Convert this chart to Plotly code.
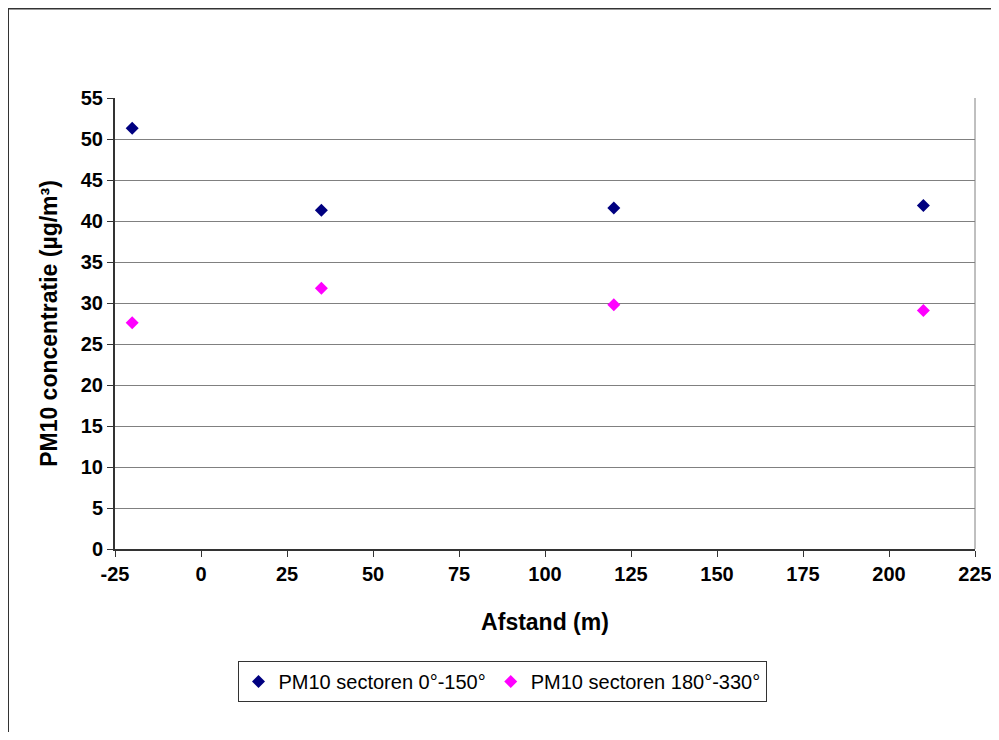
import plotly.graph_objects as go

afstand = [-20, 35, 120, 210]
pm10_sector_a = [51.3, 41.3, 41.6, 41.9]
pm10_sector_b = [27.6, 31.8, 29.8, 29.1]
name_a = "PM10 sectoren 0°-150°"
name_b = "PM10 sectoren 180°-330°"
x_ticks = [-25, 0, 25, 50, 75, 100, 125, 150, 175, 200, 225]
x_ticktext = ["-25", "0", "25", "50", "75", "100", "125", "150", "175", "200", "225"]
y_ticks = [0, 5, 10, 15, 20, 25, 30, 35, 40, 45, 50, 55]

FONT = "Arial, Liberation Sans, sans-serif"

fig = go.Figure()
fig.add_trace(go.Scatter(x=afstand, y=pm10_sector_a, mode="markers", name=name_a,
                         marker=dict(symbol="diamond", size=10, color="#000080")))
fig.add_trace(go.Scatter(x=afstand, y=pm10_sector_b, mode="markers", name=name_b,
                         marker=dict(symbol="diamond", size=10, color="#FF00FF")))

# page has 8px body margin; coordinates below are figure coordinates
W, H = 983, 724
L, R, T, B = 107, 16, 90, 183
pw = W - L - R
ph = H - T - B

def px_x(p):
    return (p - L) / pw

def px_y(p):
    return (H - B - p) / ph

fig.update_layout(
    width=W, height=H,
    margin=dict(l=L, r=R, t=T, b=B, autoexpand=False),
    paper_bgcolor="white", plot_bgcolor="white",
    font=dict(family=FONT, color="black", size=20),
    showlegend=True,
    legend=dict(orientation="h", x=px_x(494), xanchor="center", y=px_y(653), yanchor="top",
                bordercolor="#333333", borderwidth=1, font=dict(size=20, family=FONT),
                itemwidth=30, tracegroupgap=0),
    shapes=[dict(type="rect", xref="paper", yref="paper",
                 x0=px_x(0), x1=px_x(W + 20), y0=px_y(H + 20), y1=px_y(0.5),
                 line=dict(color="#333333", width=2), layer="below"),
            dict(type="line", xref="paper", yref="paper", x0=1, x1=1, y0=0, y1=1,
                 line=dict(color="#808080", width=1))],
)
fig.update_xaxes(range=[-25, 225], tickvals=x_ticks, ticktext=x_ticktext, showgrid=False, zeroline=False,
                 showline=True, linecolor="#333333", linewidth=2,
                 ticks="outside", ticklen=6, tickcolor="#333333",
                 ticklabeloverflow="allow", automargin=False,
                 tickfont=dict(size=20, family=FONT, weight="bold"),
                 title=dict(text="Afstand (m)", font=dict(size=23, family=FONT, weight="bold"), standoff=30))
fig.update_yaxes(range=[0, 55], tickvals=y_ticks, showgrid=True, gridcolor="#808080", gridwidth=1,
                 zeroline=False, showline=True, linecolor="#333333", linewidth=2,
                 ticks="outside", ticklen=6, tickcolor="#333333",
                 automargin=False,
                 tickfont=dict(size=20, family=FONT, weight="bold"),
                 title=dict(text="PM10 concentratie (µg/m³)", font=dict(size=23, family=FONT, weight="bold"), standoff=17))

fig.write_html("out.html")
